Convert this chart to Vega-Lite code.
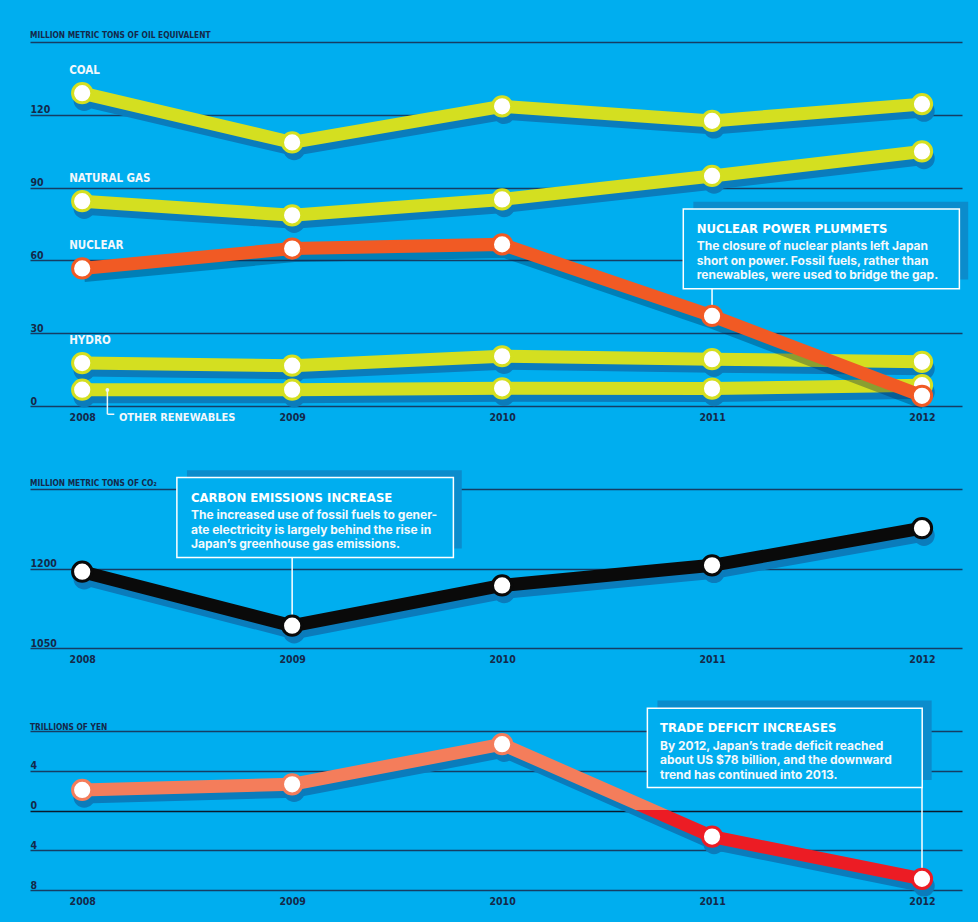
{
  "$schema": "https://vega.github.io/schema/vega-lite/v6.json",
  "background": "#00aeef",
  "padding": {"left": 30, "top": 30, "right": 20, "bottom": 40},
  "spacing": 83,
  "bounds": "flush",
  "config": {
    "view": {"stroke": null},
    "axis": {
      "labelFont": "DejaVu Sans Condensed, sans-serif",
      "labelFontWeight": "bold",
      "labelColor": "#14294a",
      "labelFontSize": 10.5,
      "domain": false,
      "ticks": false,
      "tickSize": 0,
      "titlePadding": 0
    },
    "axisX": {"grid": false, "labelPadding": 6, "labelBaseline": "top"},
    "axisY": {"grid": true, "gridColor": "#153d64", "gridWidth": 1.5, "labelAlign": "left", "labelBaseline": "alphabetic", "labelPadding": 0, "labelOffset": -2},
    "title": {
      "anchor": "start",
      "frame": "group",
      "font": "DejaVu Sans Condensed, sans-serif",
      "fontSize": 8.3,
      "fontWeight": "bold",
      "color": "#14294a",
      "offset": 3
    }
  },
  "datasets": {
    "energy": [
      {"year": 2008, "series": "COAL", "value": 128.9},
      {"year": 2009, "series": "COAL", "value": 108.6},
      {"year": 2010, "series": "COAL", "value": 123.5},
      {"year": 2011, "series": "COAL", "value": 117.5},
      {"year": 2012, "series": "COAL", "value": 124.4},
      {"year": 2008, "series": "NATURAL GAS", "value": 84.4},
      {"year": 2009, "series": "NATURAL GAS", "value": 78.6},
      {"year": 2010, "series": "NATURAL GAS", "value": 85.1},
      {"year": 2011, "series": "NATURAL GAS", "value": 94.8},
      {"year": 2012, "series": "NATURAL GAS", "value": 104.9},
      {"year": 2008, "series": "NUCLEAR", "value": 56.7},
      {"year": 2009, "series": "NUCLEAR", "value": 64.9},
      {"year": 2010, "series": "NUCLEAR", "value": 66.6},
      {"year": 2011, "series": "NUCLEAR", "value": 37.1},
      {"year": 2012, "series": "NUCLEAR", "value": 4.2},
      {"year": 2008, "series": "HYDRO", "value": 17.7},
      {"year": 2009, "series": "HYDRO", "value": 16.6},
      {"year": 2010, "series": "HYDRO", "value": 20.5},
      {"year": 2011, "series": "HYDRO", "value": 19.3},
      {"year": 2012, "series": "HYDRO", "value": 18.2},
      {"year": 2008, "series": "OTHER RENEWABLES", "value": 6.7},
      {"year": 2009, "series": "OTHER RENEWABLES", "value": 6.7},
      {"year": 2010, "series": "OTHER RENEWABLES", "value": 7.3},
      {"year": 2011, "series": "OTHER RENEWABLES", "value": 7.2},
      {"year": 2012, "series": "OTHER RENEWABLES", "value": 8.6}
    ],
    "co2": [
      {"year": 2008, "value": 1194},
      {"year": 2009, "value": 1092},
      {"year": 2010, "value": 1168},
      {"year": 2011, "value": 1206},
      {"year": 2012, "value": 1276}
    ],
    "trade": [
      {"year": 2008, "value": 2.07},
      {"year": 2009, "value": 2.64},
      {"year": 2010, "value": 6.67},
      {"year": 2011, "value": -2.62},
      {"year": 2012, "value": -6.88}
    ]
  },
  "vconcat": [
    {
      "width": 932,
      "height": 364,
      "title": {"text": "MILLION METRIC TONS OF OIL EQUIVALENT"},
      "layer": [
        {
          "data": {"name": "energy"},
          "transform": [{"filter": "datum.series != 'NUCLEAR'"}],
          "encoding": {
            "x": {"field": "year", "type": "quantitative", "scale": {"domain": [2007.7514, 2012.1905], "nice": false, "zero": false}, "axis": {"values": [2008, 2009, 2010, 2011, 2012], "format": "d", "title": null}},
            "y": {"field": "value", "type": "quantitative", "scale": {"domain": [0, 150], "nice": false, "zero": false}, "axis": {"values": [0, 30, 60, 90, 120, 150], "labelExpr": "datum.value == 150 ? '' : datum.label", "title": null}}
          },
          "layer": [
            {"mark": {"type": "line", "stroke": "#0a7cbc", "strokeWidth": 13, "yOffset": 7, "xOffset": 2, "strokeCap": "round"}, "encoding": {"detail": {"field": "series"}}},
            {"mark": {"type": "point", "shape": "circle", "filled": true, "fill": "#0a7cbc", "size": 460, "opacity": 1, "yOffset": 7, "xOffset": 2}},
            {"mark": {"type": "line", "stroke": "#d4df20", "strokeWidth": 13}, "encoding": {"detail": {"field": "series"}}},
            {"mark": {"type": "point", "shape": "circle", "filled": true, "fill": "#ffffff", "stroke": "#d4df20", "strokeWidth": 3, "size": 370, "opacity": 1}}
          ]
        },
        {
          "data": {"values": [{}]},
          "mark": {"type": "rule", "stroke": "#eef6fb", "strokeWidth": 1.5},
          "encoding": {
            "x": {"datum": 2008.12, "scale": {"domain": [2007.7514, 2012.1905], "nice": false, "zero": false}, "axis": {"values": [2008, 2009, 2010, 2011, 2012], "format": "d", "title": null}},
            "y": {"datum": 6.6, "scale": {"domain": [0, 150], "nice": false, "zero": false}, "axis": {"values": [0, 30, 60, 90, 120, 150], "labelExpr": "datum.value == 150 ? '' : datum.label", "title": null}},
            "y2": {"datum": -3.4}
          }
        },
        {
          "data": {"values": [{}]},
          "mark": {"type": "rule", "stroke": "#eef6fb", "strokeWidth": 1.5},
          "encoding": {
            "x": {"datum": 2008.12, "scale": {"domain": [2007.7514, 2012.1905], "nice": false, "zero": false}, "axis": {"values": [2008, 2009, 2010, 2011, 2012], "format": "d", "title": null}},
            "x2": {"datum": 2008.153},
            "y": {"datum": -3.4, "scale": {"domain": [0, 150], "nice": false, "zero": false}, "axis": {"values": [0, 30, 60, 90, 120, 150], "labelExpr": "datum.value == 150 ? '' : datum.label", "title": null}}
          }
        },
        {
          "data": {"values": [{}]},
          "mark": {"type": "point", "shape": "circle", "filled": true, "fill": "#eef6fb", "size": 14, "opacity": 1},
          "encoding": {
            "x": {"datum": 2008.12, "scale": {"domain": [2007.7514, 2012.1905], "nice": false, "zero": false}, "axis": {"values": [2008, 2009, 2010, 2011, 2012], "format": "d", "title": null}},
            "y": {"datum": 6.6, "scale": {"domain": [0, 150], "nice": false, "zero": false}, "axis": {"values": [0, 30, 60, 90, 120, 150], "labelExpr": "datum.value == 150 ? '' : datum.label", "title": null}}
          }
        },
        {
          "data": {"values": [{}]},
          "mark": {"type": "text", "text": "OTHER RENEWABLES", "align": "left", "baseline": "middle", "font": "DejaVu Sans Condensed, sans-serif", "fontWeight": "bold", "fontSize": 11, "fill": "#f2f7fb"},
          "encoding": {
            "x": {"datum": 2008.175, "scale": {"domain": [2007.7514, 2012.1905], "nice": false, "zero": false}, "axis": {"values": [2008, 2009, 2010, 2011, 2012], "format": "d", "title": null}},
            "y": {"datum": -5.1, "scale": {"domain": [0, 150], "nice": false, "zero": false}, "axis": {"values": [0, 30, 60, 90, 120, 150], "labelExpr": "datum.value == 150 ? '' : datum.label", "title": null}}
          }
        },
        {
          "data": {"name": "energy"},
          "transform": [{"filter": "datum.series == 'NUCLEAR'"}],
          "encoding": {
            "x": {"field": "year", "type": "quantitative", "scale": {"domain": [2007.7514, 2012.1905], "nice": false, "zero": false}, "axis": {"values": [2008, 2009, 2010, 2011, 2012], "format": "d", "title": null}},
            "y": {"field": "value", "type": "quantitative", "scale": {"domain": [0, 150], "nice": false, "zero": false}, "axis": {"values": [0, 30, 60, 90, 120, 150], "labelExpr": "datum.value == 150 ? '' : datum.label", "title": null}}
          },
          "layer": [
            {"mark": {"type": "line", "stroke": "#00284f", "strokeOpacity": 0.35, "strokeWidth": 13, "yOffset": 7, "xOffset": 2}},
            {"mark": {"type": "line", "stroke": "#f15a24", "strokeWidth": 13}}
          ]
        },
        {
          "data": {"values": [{}]},
          "mark": {"type": "rect", "fill": "#0b8ccc"},
          "encoding": {
            "x": {"datum": 2010.911, "scale": {"domain": [2007.7514, 2012.1905], "nice": false, "zero": false}, "axis": {"values": [2008, 2009, 2010, 2011, 2012], "format": "d", "title": null}},
            "x2": {"datum": 2012.22},
            "y": {"datum": 84.2, "scale": {"domain": [0, 150], "nice": false, "zero": false}, "axis": {"values": [0, 30, 60, 90, 120, 150], "labelExpr": "datum.value == 150 ? '' : datum.label", "title": null}},
            "y2": {"datum": 52.1}
          }
        },
        {
          "data": {"values": [{}]},
          "mark": {"type": "rect", "fill": "#00aeef", "stroke": "#ffffff", "strokeWidth": 1.5},
          "encoding": {
            "x": {"datum": 2010.863, "scale": {"domain": [2007.7514, 2012.1905], "nice": false, "zero": false}, "axis": {"values": [2008, 2009, 2010, 2011, 2012], "format": "d", "title": null}},
            "x2": {"datum": 2012.178},
            "y": {"datum": 81.2, "scale": {"domain": [0, 150], "nice": false, "zero": false}, "axis": {"values": [0, 30, 60, 90, 120, 150], "labelExpr": "datum.value == 150 ? '' : datum.label", "title": null}},
            "y2": {"datum": 48.3}
          }
        },
        {
          "data": {"values": [{}]},
          "mark": {"type": "rule", "stroke": "#ffffff", "strokeWidth": 1.5},
          "encoding": {
            "x": {"datum": 2011, "scale": {"domain": [2007.7514, 2012.1905], "nice": false, "zero": false}, "axis": {"values": [2008, 2009, 2010, 2011, 2012], "format": "d", "title": null}},
            "y": {"datum": 48.3, "scale": {"domain": [0, 150], "nice": false, "zero": false}, "axis": {"values": [0, 30, 60, 90, 120, 150], "labelExpr": "datum.value == 150 ? '' : datum.label", "title": null}},
            "y2": {"datum": 40}
          }
        },
        {
          "data": {"values": [{}]},
          "mark": {"type": "text", "text": "NUCLEAR POWER PLUMMETS", "align": "left", "baseline": "middle", "font": "DejaVu Sans Condensed, sans-serif", "fontWeight": "bold", "fontSize": 13, "fill": "#ffffff"},
          "encoding": {
            "x": {"datum": 2010.927, "scale": {"domain": [2007.7514, 2012.1905], "nice": false, "zero": false}, "axis": {"values": [2008, 2009, 2010, 2011, 2012], "format": "d", "title": null}},
            "y": {"datum": 73.0, "scale": {"domain": [0, 150], "nice": false, "zero": false}, "axis": {"values": [0, 30, 60, 90, 120, 150], "labelExpr": "datum.value == 150 ? '' : datum.label", "title": null}}
          }
        },
        {
          "data": {"values": [{}]},
          "mark": {"type": "text", "text": ["The closure of nuclear plants left Japan", "short on power. Fossil fuels, rather than", "renewables, were used to bridge the gap."], "align": "left", "baseline": "middle", "lineHeight": 14.5, "font": "Inter, Lato, sans-serif", "fontWeight": "bold", "fontSize": 12, "fill": "#f4f9fc"},
          "encoding": {
            "x": {"datum": 2010.927, "scale": {"domain": [2007.7514, 2012.1905], "nice": false, "zero": false}, "axis": {"values": [2008, 2009, 2010, 2011, 2012], "format": "d", "title": null}},
            "y": {"datum": 65.8, "scale": {"domain": [0, 150], "nice": false, "zero": false}, "axis": {"values": [0, 30, 60, 90, 120, 150], "labelExpr": "datum.value == 150 ? '' : datum.label", "title": null}}
          }
        },
        {
          "data": {"name": "energy"},
          "encoding": {
            "x": {"field": "year", "type": "quantitative", "scale": {"domain": [2007.7514, 2012.1905], "nice": false, "zero": false}, "axis": {"values": [2008, 2009, 2010, 2011, 2012], "format": "d", "title": null}},
            "y": {"field": "value", "type": "quantitative", "scale": {"domain": [0, 150], "nice": false, "zero": false}, "axis": {"values": [0, 30, 60, 90, 120, 150], "labelExpr": "datum.value == 150 ? '' : datum.label", "title": null}}
          },
          "layer": [
            {
              "transform": [{"filter": "datum.series == 'NUCLEAR'"}],
              "mark": {"type": "point", "shape": "circle", "filled": true, "fill": "#ffffff", "stroke": "#f15a24", "strokeWidth": 3, "size": 370, "opacity": 1}
            },
            {
              "transform": [{"filter": "datum.year == 2008 && datum.series != 'OTHER RENEWABLES'"}],
              "mark": {"type": "text", "align": "left", "baseline": "middle", "dx": -13, "dy": -22, "font": "DejaVu Sans Condensed, sans-serif", "fontWeight": "bold", "fontSize": 11.5, "fill": "#f2f7fb"},
              "encoding": {"text": {"field": "series"}}
            }
          ]
        }
      ]
    },
    {
      "width": 932,
      "height": 159,
      "title": {"text": "MILLION METRIC TONS OF CO₂", "offset": -16.5},
      "layer": [
        {
          "data": {"values": [{}]},
          "mark": {"type": "rect", "fill": "#0b8ccc"},
          "encoding": {
            "x": {"datum": 2008.499, "scale": {"domain": [2007.7514, 2012.1905], "nice": false, "zero": false}, "axis": {"values": [2008, 2009, 2010, 2011, 2012], "format": "d", "title": null}},
            "x2": {"datum": 2009.808},
            "y": {"datum": 1385.2, "scale": {"domain": [1050, 1350], "nice": false, "zero": false}, "axis": {"values": [1050, 1200, 1350], "labelExpr": "datum.value == 1350 ? '' : format(datum.value, 'd')", "title": null}},
            "y2": {"datum": 1237.8}
          }
        },
        {
          "data": {"values": [{}]},
          "mark": {"type": "rect", "fill": "#00aeef", "stroke": "#ffffff", "strokeWidth": 1.5},
          "encoding": {
            "x": {"datum": 2008.451, "scale": {"domain": [2007.7514, 2012.1905], "nice": false, "zero": false}, "axis": {"values": [2008, 2009, 2010, 2011, 2012], "format": "d", "title": null}},
            "x2": {"datum": 2009.768},
            "y": {"datum": 1371.5, "scale": {"domain": [1050, 1350], "nice": false, "zero": false}, "axis": {"values": [1050, 1200, 1350], "labelExpr": "datum.value == 1350 ? '' : format(datum.value, 'd')", "title": null}},
            "y2": {"datum": 1220.8}
          }
        },
        {
          "data": {"values": [{}]},
          "mark": {"type": "rule", "stroke": "#ffffff", "strokeWidth": 1.5},
          "encoding": {
            "x": {"datum": 2009, "scale": {"domain": [2007.7514, 2012.1905], "nice": false, "zero": false}, "axis": {"values": [2008, 2009, 2010, 2011, 2012], "format": "d", "title": null}},
            "y": {"datum": 1220.8, "scale": {"domain": [1050, 1350], "nice": false, "zero": false}, "axis": {"values": [1050, 1200, 1350], "labelExpr": "datum.value == 1350 ? '' : format(datum.value, 'd')", "title": null}},
            "y2": {"datum": 1100}
          }
        },
        {
          "data": {"values": [{}]},
          "mark": {"type": "text", "text": "CARBON EMISSIONS INCREASE", "align": "left", "baseline": "middle", "font": "DejaVu Sans Condensed, sans-serif", "fontWeight": "bold", "fontSize": 13, "fill": "#ffffff"},
          "encoding": {
            "x": {"datum": 2008.518, "scale": {"domain": [2007.7514, 2012.1905], "nice": false, "zero": false}, "axis": {"values": [2008, 2009, 2010, 2011, 2012], "format": "d", "title": null}},
            "y": {"datum": 1333.8, "scale": {"domain": [1050, 1350], "nice": false, "zero": false}, "axis": {"values": [1050, 1200, 1350], "labelExpr": "datum.value == 1350 ? '' : format(datum.value, 'd')", "title": null}}
          }
        },
        {
          "data": {"values": [{}]},
          "mark": {"type": "text", "text": ["The increased use of fossil fuels to gener-", "ate electricity is largely behind the rise in", "Japan’s greenhouse gas emissions."], "align": "left", "baseline": "middle", "lineHeight": 14.5, "font": "Inter, Lato, sans-serif", "fontWeight": "bold", "fontSize": 12, "fill": "#f4f9fc"},
          "encoding": {
            "x": {"datum": 2008.518, "scale": {"domain": [2007.7514, 2012.1905], "nice": false, "zero": false}, "axis": {"values": [2008, 2009, 2010, 2011, 2012], "format": "d", "title": null}},
            "y": {"datum": 1300.5, "scale": {"domain": [1050, 1350], "nice": false, "zero": false}, "axis": {"values": [1050, 1200, 1350], "labelExpr": "datum.value == 1350 ? '' : format(datum.value, 'd')", "title": null}}
          }
        },
        {
          "data": {"name": "co2"},
          "encoding": {
            "x": {"field": "year", "type": "quantitative", "scale": {"domain": [2007.7514, 2012.1905], "nice": false, "zero": false}, "axis": {"values": [2008, 2009, 2010, 2011, 2012], "format": "d", "title": null}},
            "y": {"field": "value", "type": "quantitative", "scale": {"domain": [1050, 1350], "nice": false, "zero": false}, "axis": {"values": [1050, 1200, 1350], "labelExpr": "datum.value == 1350 ? '' : format(datum.value, 'd')", "title": null}}
          },
          "layer": [
            {"mark": {"type": "line", "stroke": "#0a7cbc", "strokeWidth": 13, "yOffset": 7, "xOffset": 2, "strokeCap": "round"}},
            {"mark": {"type": "point", "shape": "circle", "filled": true, "fill": "#0a7cbc", "size": 460, "opacity": 1, "yOffset": 7, "xOffset": 2}},
            {"mark": {"type": "line", "stroke": "#0a0a0a", "strokeWidth": 13}},
            {"mark": {"type": "point", "shape": "circle", "filled": true, "fill": "#ffffff", "stroke": "#0a0a0a", "strokeWidth": 3, "size": 370, "opacity": 1}}
          ]
        }
      ]
    },
    {
      "width": 932,
      "height": 159,
      "title": {"text": "TRILLIONS OF YEN", "offset": -30.5},
      "layer": [
        {
          "data": {"values": [{}]},
          "mark": {"type": "rect", "fill": "#0b8ccc"},
          "encoding": {
            "x": {"datum": 2010.74, "scale": {"domain": [2007.7514, 2012.1905], "nice": false, "zero": false}, "axis": {"values": [2008, 2009, 2010, 2011, 2012], "format": "d", "title": null}},
            "x2": {"datum": 2012.046},
            "y": {"datum": 11.07, "scale": {"domain": [-8, 8], "nice": false, "zero": false}, "axis": {"values": [-8, -4, 0, 4, 8], "labelExpr": "datum.value == 8 ? '' : format(abs(datum.value), 'd')", "gridColor": {"condition": {"test": "datum.value === 0", "value": "#0a1a2c"}, "value": "#153d64"}, "title": null}},
            "y2": {"datum": 3.08}
          }
        },
        {
          "data": {"values": [{}]},
          "mark": {"type": "rect", "fill": "#00aeef", "stroke": "#ffffff", "strokeWidth": 1.5},
          "encoding": {
            "x": {"datum": 2010.692, "scale": {"domain": [2007.7514, 2012.1905], "nice": false, "zero": false}, "axis": {"values": [2008, 2009, 2010, 2011, 2012], "format": "d", "title": null}},
            "x2": {"datum": 2012.001},
            "y": {"datum": 10.29, "scale": {"domain": [-8, 8], "nice": false, "zero": false}, "axis": {"values": [-8, -4, 0, 4, 8], "labelExpr": "datum.value == 8 ? '' : format(abs(datum.value), 'd')", "gridColor": {"condition": {"test": "datum.value === 0", "value": "#0a1a2c"}, "value": "#153d64"}, "title": null}},
            "y2": {"datum": 2.31}
          }
        },
        {
          "data": {"values": [{}]},
          "mark": {"type": "rule", "stroke": "#ffffff", "strokeWidth": 1.5},
          "encoding": {
            "x": {"datum": 2012, "scale": {"domain": [2007.7514, 2012.1905], "nice": false, "zero": false}, "axis": {"values": [2008, 2009, 2010, 2011, 2012], "format": "d", "title": null}},
            "y": {"datum": 2.31, "scale": {"domain": [-8, 8], "nice": false, "zero": false}, "axis": {"values": [-8, -4, 0, 4, 8], "labelExpr": "datum.value == 8 ? '' : format(abs(datum.value), 'd')", "gridColor": {"condition": {"test": "datum.value === 0", "value": "#0a1a2c"}, "value": "#153d64"}, "title": null}},
            "y2": {"datum": -6.5}
          }
        },
        {
          "data": {"values": [{}]},
          "mark": {"type": "text", "text": "TRADE DEFICIT INCREASES", "align": "left", "baseline": "middle", "font": "DejaVu Sans Condensed, sans-serif", "fontWeight": "bold", "fontSize": 13, "fill": "#ffffff"},
          "encoding": {
            "x": {"datum": 2010.752, "scale": {"domain": [2007.7514, 2012.1905], "nice": false, "zero": false}, "axis": {"values": [2008, 2009, 2010, 2011, 2012], "format": "d", "title": null}},
            "y": {"datum": 8.27, "scale": {"domain": [-8, 8], "nice": false, "zero": false}, "axis": {"values": [-8, -4, 0, 4, 8], "labelExpr": "datum.value == 8 ? '' : format(abs(datum.value), 'd')", "gridColor": {"condition": {"test": "datum.value === 0", "value": "#0a1a2c"}, "value": "#153d64"}, "title": null}}
          }
        },
        {
          "data": {"values": [{}]},
          "mark": {"type": "text", "text": ["By 2012, Japan’s trade deficit reached", "about US $78 billion, and the downward", "trend has continued into 2013."], "align": "left", "baseline": "middle", "lineHeight": 14.5, "font": "Inter, Lato, sans-serif", "fontWeight": "bold", "fontSize": 12, "fill": "#f4f9fc"},
          "encoding": {
            "x": {"datum": 2010.752, "scale": {"domain": [2007.7514, 2012.1905], "nice": false, "zero": false}, "axis": {"values": [2008, 2009, 2010, 2011, 2012], "format": "d", "title": null}},
            "y": {"datum": 6.54, "scale": {"domain": [-8, 8], "nice": false, "zero": false}, "axis": {"values": [-8, -4, 0, 4, 8], "labelExpr": "datum.value == 8 ? '' : format(abs(datum.value), 'd')", "gridColor": {"condition": {"test": "datum.value === 0", "value": "#0a1a2c"}, "value": "#153d64"}, "title": null}}
          }
        },
        {
          "data": {"name": "trade"},
          "encoding": {
            "x": {"field": "year", "type": "quantitative", "scale": {"domain": [2007.7514, 2012.1905], "nice": false, "zero": false}, "axis": {"values": [2008, 2009, 2010, 2011, 2012], "format": "d", "title": null}},
            "y": {"field": "value", "type": "quantitative", "scale": {"domain": [-8, 8], "nice": false, "zero": false}, "axis": {"values": [-8, -4, 0, 4, 8], "labelExpr": "datum.value == 8 ? '' : format(abs(datum.value), 'd')", "gridColor": {"condition": {"test": "datum.value === 0", "value": "#0a1a2c"}, "value": "#153d64"}, "title": null}}
          },
          "layer": [
            {"mark": {"type": "line", "stroke": "#0a7cbc", "strokeWidth": 13, "yOffset": 7, "xOffset": 2, "strokeCap": "round"}},
            {"mark": {"type": "point", "shape": "circle", "filled": true, "fill": "#0a7cbc", "size": 460, "opacity": 1, "yOffset": 7, "xOffset": 2}},
            {"mark": {"type": "line", "strokeWidth": 13, "stroke": {"gradient": "linear", "x1": 0, "y1": 0, "x2": 0, "y2": 1, "stops": [{"offset": 0, "color": "#f47d5b"}, {"offset": 0.492, "color": "#f47d5b"}, {"offset": 0.492, "color": "#ec1c24"}, {"offset": 1, "color": "#ec1c24"}]}}},
            {
              "mark": {"type": "point", "shape": "circle", "filled": true, "fill": "#ffffff", "strokeWidth": 3, "size": 370, "opacity": 1},
              "encoding": {"stroke": {"condition": {"test": "datum.value < 0", "value": "#ec1c24"}, "value": "#f47d5b"}}
            }
          ]
        }
      ]
    }
  ]
}
